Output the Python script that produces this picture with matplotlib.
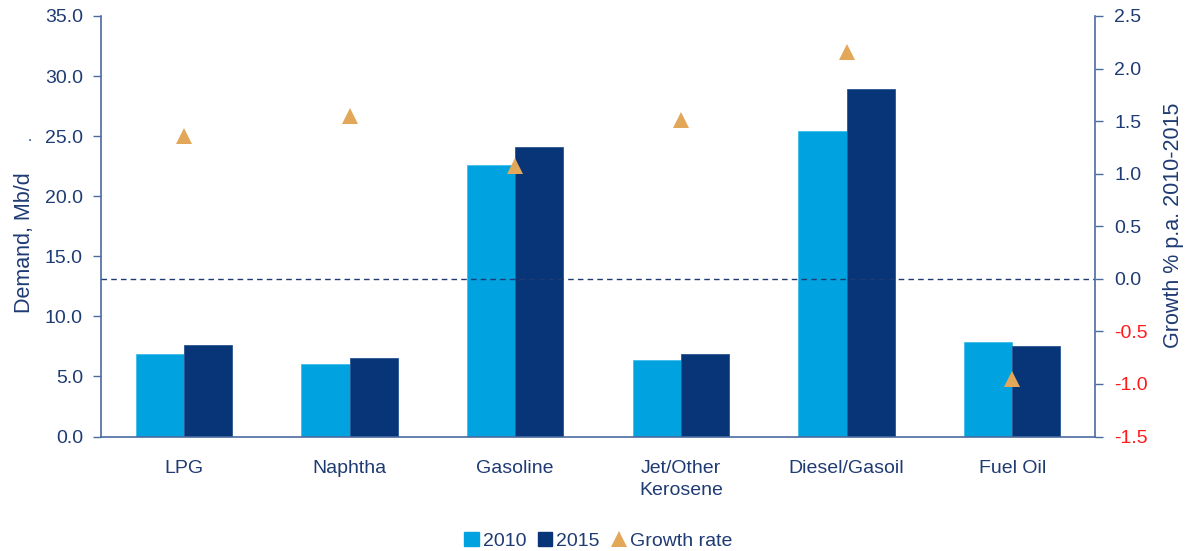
import numpy as np
import matplotlib.pyplot as plt
from matplotlib.lines import Line2D
from matplotlib.patches import Patch

plt.rcParams['font.family'] = ['Liberation Sans', 'DejaVu Sans']

products = ['LPG', 'Naphtha', 'Gasoline', 'Jet/Other\nKerosene', 'Diesel/Gasoil', 'Fuel Oil']
demand_2010 = [6.9, 6.0, 22.6, 6.4, 25.4, 7.9]
demand_2015 = [7.6, 6.5, 24.1, 6.9, 28.9, 7.5]
growth = [1.36, 1.55, 1.07, 1.51, 2.16, -0.95]

c2010 = '#00a3e0'
c2015 = '#083578'
ctri = '#e3a75a'
navy = '#1f3b73'
spine = '#4a6b9f'

fig = plt.figure(figsize=(11.94, 5.51), dpi=100)
ax = fig.add_axes([0.0846, 0.2078, 0.8325, 0.7632])
ax2 = ax.twinx()

x = np.arange(len(products))
w = 0.29
ax.bar(x - w / 2, demand_2010, w, color=c2010, edgecolor='#3fbdea', linewidth=0.6, zorder=2)
ax.bar(x + w / 2, demand_2015, w, color=c2015, edgecolor='#2a5592', linewidth=0.6, zorder=2)

ax.set_xlim(-0.5, 5.5)
ax.set_ylim(0, 35)
lt = np.arange(0, 35.1, 5)
ax.set_yticks(lt)
ax.set_yticklabels(['%.1f' % v for v in lt])
ax.set_xticks(x)
ax.set_xticklabels(products, linespacing=1.35)
ax.tick_params(axis='x', length=0, pad=17, labelsize=14, labelcolor=navy)
ax.tick_params(axis='y', length=6, width=1, color=spine, labelsize=14, labelcolor=navy, pad=7)
ax.set_ylabel('Demand, Mb/d', fontsize=15.5, color=navy)
ax.yaxis.set_label_coords(-0.066, 0.46)
ax.text(-0.0714, 0.695, '.', transform=ax.transAxes, color=navy, fontsize=11,
        ha='center', va='bottom')

# growth rate on the secondary axis
ax2.axhline(0, color=navy, linestyle=(0, (4, 3)), linewidth=1.0, zorder=1)
ax2.plot(x, growth, linestyle='none', marker='^', markersize=12, color=ctri,
         markeredgewidth=0, zorder=3)
ax2.set_ylim(-1.5, 2.5)
rt = np.arange(-1.5, 2.51, 0.5)
ax2.set_yticks(rt)
ax2.set_yticklabels(['%.1f' % v for v in rt])
ax2.tick_params(axis='y', length=6, width=1, color=spine, labelsize=14, labelcolor=navy, pad=8)
for lab, v in zip(ax2.get_yticklabels(), rt):
    if v < 0:
        lab.set_color('#ff1a1a')
ax2.set_ylabel('Growth % p.a. 2010-2015', fontsize=15.5, color=navy)
ax2.yaxis.set_label_coords(1.068, 0.503)

for a in (ax, ax2):
    a.spines['top'].set_visible(False)
    for s in ('left', 'right', 'bottom'):
        a.spines[s].set_color(spine)
        a.spines[s].set_linewidth(1.2)
ax2.spines['bottom'].set_visible(False)
ax.spines['right'].set_visible(False)
ax2.spines['left'].set_visible(False)

handles = [Patch(color=c2010, label='2010'), Patch(color=c2015, label='2015'),
           Line2D([], [], linestyle='none', marker='^', markersize=12, color=ctri,
                  markeredgewidth=0, label='Growth rate')]
leg = fig.legend(handles=handles, loc='center', bbox_to_anchor=(0.501, 0.018), ncol=3,
                 frameon=False, fontsize=14, handlelength=0.75, handleheight=0.7,
                 handletextpad=0.2, columnspacing=0.6, borderpad=0)
for t in leg.get_texts():
    t.set_color(navy)

fig.savefig('out.png', dpi=100)
